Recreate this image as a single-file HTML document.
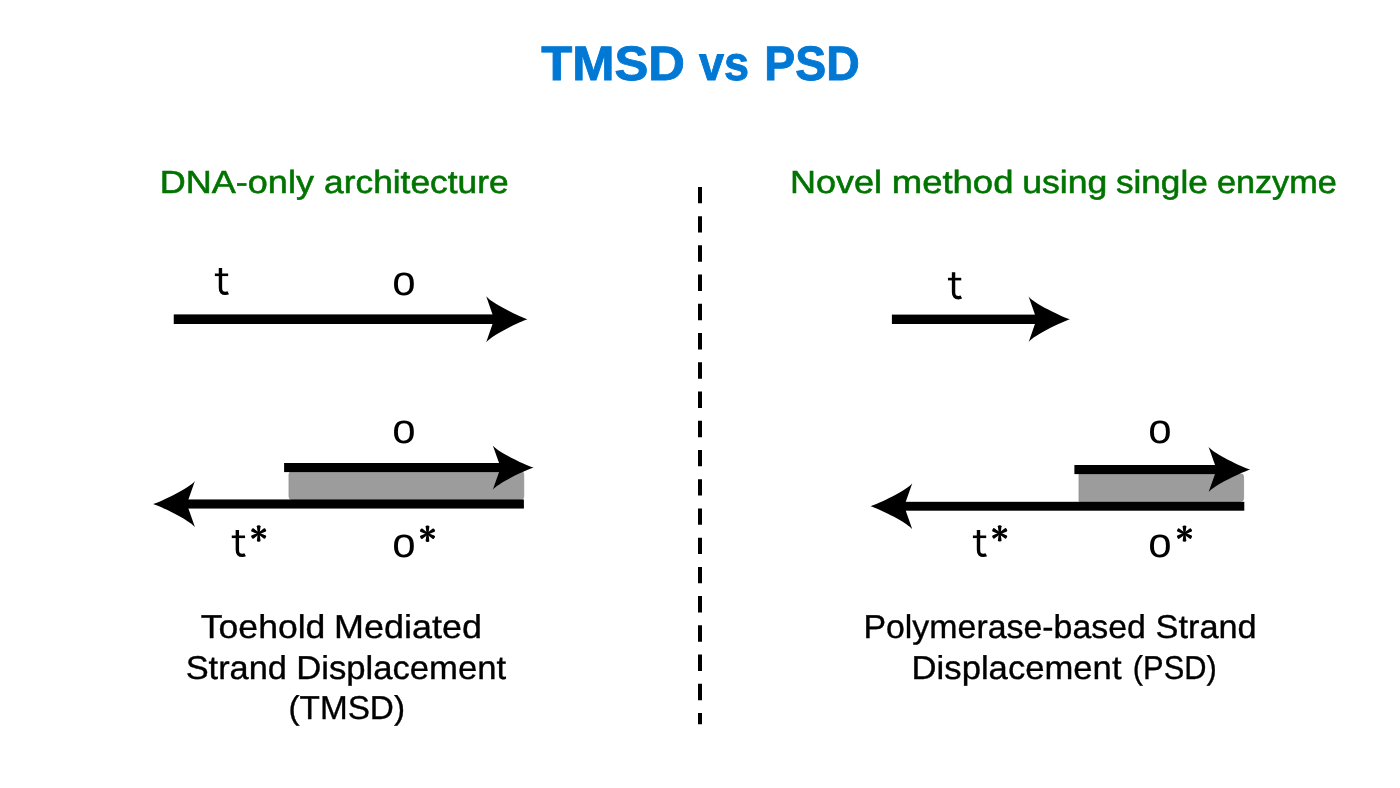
<!DOCTYPE html>
<html>
<head>
<meta charset="utf-8">
<style>
html,body{margin:0;padding:0;background:#fff;}
body{width:1400px;height:788px;overflow:hidden;}
svg{display:block;will-change:transform;}
text{font-family:"Liberation Sans",sans-serif;text-rendering:geometricPrecision;}
</style>
</head>
<body>
<svg width="1400" height="788" viewBox="0 0 1400 788">
<defs>
<path id="ah" d="M0 0 C-8 -2.5 -36 -16 -41.4 -23 L-33.4 0 L-41.4 23 C-36 16 -8 2.5 0 0 Z"/>
<g id="tg" fill="none" stroke="#000">
<path d="M0 -27 V-7 Q0 -1.6 5 -1.6 Q6.6 -1.6 7.8 -2.2" stroke-width="3.4"/>
<path d="M-5.6 -20.2 H7.7" stroke-width="2.6"/>
</g>
<g id="ast">
<path id="arm" d="M-0.95 0 L-1.85 -7.2 A1.85 1 0 0 1 1.85 -7.2 L0.95 0Z"/>
<use href="#arm" transform="rotate(60)"/>
<use href="#arm" transform="rotate(120)"/>
<use href="#arm" transform="rotate(180)"/>
<use href="#arm" transform="rotate(240)"/>
<use href="#arm" transform="rotate(300)"/>
</g>
</defs>
<rect width="1400" height="788" fill="#fff"/>

<!-- Title -->
<g fill="#0078d4" stroke="#0078d4" stroke-width="0.9">
<text id="w1" x="541.2" y="80" font-size="48.3" font-weight="bold" textLength="143.82" lengthAdjust="spacingAndGlyphs">TMSD</text>
<text id="w2" x="699.07" y="80" font-size="48.3" font-weight="bold" textLength="50.05" lengthAdjust="spacingAndGlyphs">vs</text>
<text id="w3" x="764.37" y="80" font-size="48.3" font-weight="bold" textLength="95.35" lengthAdjust="spacingAndGlyphs">PSD</text>
</g>

<!-- Subtitles -->
<g fill="#007400" stroke="#007400" stroke-width="0.55">
<text id="s1a" x="159.72" y="193.1" font-size="32" textLength="154.19" lengthAdjust="spacingAndGlyphs">DNA-only</text>
<text id="s1b" x="324.1" y="193.1" font-size="32" textLength="184.46" lengthAdjust="spacingAndGlyphs">architecture</text>
<text id="s2a" x="790.03" y="193.1" font-size="32" textLength="92.01" lengthAdjust="spacingAndGlyphs">Novel</text>
<text id="s2b" x="891.72" y="193.1" font-size="32" textLength="121.76" lengthAdjust="spacingAndGlyphs">method</text>
<text id="s2c" x="1022.28" y="193.1" font-size="32" textLength="85.0" lengthAdjust="spacingAndGlyphs">using</text>
<text id="s2d" x="1115.9" y="193.1" font-size="32" textLength="91.87" lengthAdjust="spacingAndGlyphs">single</text>
<text id="s2e" x="1216.93" y="193.1" font-size="32" textLength="119.79" lengthAdjust="spacingAndGlyphs">enzyme</text>
</g>

<!-- Dashed divider -->
<line x1="700" y1="186.9" x2="700" y2="724.3" stroke="#000" stroke-width="4" stroke-dasharray="16.4 12.83"/>

<!-- LEFT top arrow -->
<rect x="173.75" y="314.4" width="335" height="9.6" fill="#000"/>
<use href="#ah" transform="translate(527.5 319.2) scale(0.9975 1)"/>
<use id="T1" href="#tg" transform="translate(220.45 295)"/>
<text id="lo" x="404" y="295" font-size="42" text-anchor="middle">o</text>

<!-- LEFT bottom -->
<rect x="289" y="471.5" width="234.75" height="28" rx="3" fill="#9c9c9c" stroke="#909090" stroke-width="0.8"/>
<rect x="284.1" y="463" width="230" height="9.1" fill="#000"/>
<use href="#ah" transform="translate(533.6 467.55) scale(0.9855 0.961)"/>
<rect x="170" y="499.45" width="353.9" height="9.1" fill="#000"/>
<use href="#ah" transform="translate(153.1 504) scale(-1.0097 1.004)"/>
<text id="lo2" x="404" y="443" font-size="42" text-anchor="middle">o</text>
<use id="T2" href="#tg" transform="translate(237.35 557)"/>
<use id="A1" href="#ast" transform="translate(258.7 533.5)"/>
<text id="los" x="404" y="557" font-size="42" text-anchor="middle">o</text>
<use id="A2" href="#ast" transform="translate(427.5 533.7)"/>

<!-- Captions left -->
<g stroke="#000" stroke-width="0.35">
<text id="c1a" x="200.82" y="637.5" font-size="33" textLength="124.59" lengthAdjust="spacingAndGlyphs">Toehold</text>
<text id="c1b" x="334.13" y="637.5" font-size="33" textLength="147.79" lengthAdjust="spacingAndGlyphs">Mediated</text>
<text id="c2a" x="185.67" y="678.75" font-size="33" textLength="101.26" lengthAdjust="spacingAndGlyphs">Strand</text>
<text id="c2b" x="296.15" y="678.75" font-size="33" textLength="210.02" lengthAdjust="spacingAndGlyphs">Displacement</text>
<text id="c3" x="288.48" y="719.1" font-size="33" textLength="116.51" lengthAdjust="spacingAndGlyphs">(TMSD)</text>
</g>

<!-- RIGHT top arrow -->
<rect x="891.9" y="314.6" width="160" height="9.4" fill="#000"/>
<use href="#ah" transform="translate(1070 319.3) scale(1 0.9935)"/>
<use id="T3" href="#tg" transform="translate(953.55 299.3)"/>

<!-- RIGHT bottom -->
<path d="M1079 473.8 H1240.6 Q1243.6 473.8 1243.6 476.8 V498.5 Q1243.6 501.5 1240.6 501.5 H1079 Z" fill="#9c9c9c" stroke="#909090" stroke-width="0.8"/>
<rect x="1074.4" y="465" width="160" height="9.1" fill="#000"/>
<use href="#ah" transform="translate(1250.3 469.5) scale(1.007 0.983)"/>
<rect x="890" y="501.8" width="354.3" height="8.9" fill="#000"/>
<use href="#ah" transform="translate(870.6 506.2) scale(-1.006 0.998)"/>
<text id="ro2" x="1160" y="443" font-size="42" text-anchor="middle">o</text>
<use id="T4" href="#tg" transform="translate(978.5 557)"/>
<use id="A3" href="#ast" transform="translate(999.7 533.4)"/>
<text id="ros" x="1160" y="557" font-size="42" text-anchor="middle">o</text>
<use id="A4" href="#ast" transform="translate(1184.5 533.6)"/>

<!-- Captions right -->
<g stroke="#000" stroke-width="0.35">
<text id="c4a" x="863.42" y="637.5" font-size="33" textLength="282.48" lengthAdjust="spacingAndGlyphs">Polymerase-based</text>
<text id="c4b" x="1155.62" y="637.5" font-size="33" textLength="101.1" lengthAdjust="spacingAndGlyphs">Strand</text>
<text id="c5a" x="911.6" y="678.5" font-size="33" textLength="209.92" lengthAdjust="spacingAndGlyphs">Displacement</text>
<text id="c5b" x="1132.83" y="678.5" font-size="33" textLength="83.89" lengthAdjust="spacingAndGlyphs">(PSD)</text>
</g>
</svg>
</body>
</html>
